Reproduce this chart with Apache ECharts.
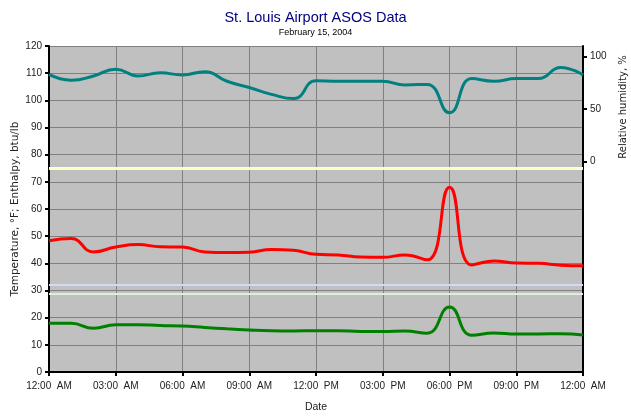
<!DOCTYPE html>
<html><head><meta charset="utf-8">
<script src="https://cdn.jsdelivr.net/npm/echarts@6/dist/echarts.min.js"></script>
<style>html,body{margin:0;padding:0;background:#fff}#c{width:631px;height:418px}</style>
</head><body><div id="c"></div>
<script>
const hours = [0,1,2,3,4,5,6,7,8,9,10,11,12,13,14,15,16,17,18,19,20,21,22,23,24];
const timeLabels = ['12:00  AM','03:00  AM','06:00  AM','09:00  AM','12:00  PM','03:00  PM','06:00  PM','09:00  PM','12:00  AM'];
const humidity = [83,77.5,81.5,88,81.5,84.5,82.5,85.5,76.5,70.5,64,60,77,76.5,76.5,76.5,73,73.5,46.5,79,76.5,79,79,89.5,82.5];
const temperature = [48.3,49.1,44.2,46,46.9,46.1,46,44.2,44,44.1,45.1,44.8,43.3,43.1,42.3,42.2,43.1,41.3,68,39.4,40.9,40.1,40,39.3,39.1];
const enthalpy = [17.9,17.9,16.1,17.4,17.4,17.1,16.9,16.4,15.9,15.5,15.2,15.1,15.2,15.2,14.9,14.9,15.1,14.3,23.9,13.5,14.4,14,14,14.1,13.6];
const refLevels = [75, 32, 28.7];
const refColors = ['#ffffcc', '#d4daf6', '#dcefdc'];

const pair = arr => hours.map((h, i) => [h, arr[i]]);
const FONT = '"Liberation Sans", Arial, sans-serif';
const WIDE = '"DejaVu Sans", Verdana, sans-serif';
const chart = echarts.init(document.getElementById('c'), null, {renderer: 'canvas'});
chart.setOption({
  animation: false,
  backgroundColor: '#ffffff',
  title: {
    text: 'St. Louis Airport ASOS Data',
    subtext: 'February 15, 2004',
    left: 'center', top: 5, itemGap: 3,
    textStyle: {fontFamily: FONT, fontSize: 14.5, fontWeight: 'normal', color: '#000080'},
    subtextStyle: {fontFamily: FONT, fontSize: 9, color: '#000000'}
  },
  grid: {left: 49, right: 48, top: 46, bottom: 46, show: true, backgroundColor: '#c0c0c0', borderWidth: 0,
    containLabel: false, outerBoundsMode: 'none'},
  xAxis: {
    type: 'value', min: 0, max: 24, interval: 3,
    name: 'Date', nameLocation: 'middle', nameGap: 30, nameMoveOverlap: false,
    nameTextStyle: {fontFamily: FONT, fontSize: 10.5, color: '#222'},
    axisLine: {show: true, onZero: false, lineStyle: {color: '#000', width: 2}},
    axisTick: {show: true, length: 4, lineStyle: {color: '#000', width: 2}},
    axisLabel: {fontFamily: FONT, fontSize: 10, color: '#222', margin: 9, formatter: v => timeLabels[Math.round(v / 3)]},
    splitLine: {show: true, lineStyle: {color: '#808080', width: 1}}
  },
  yAxis: [{
    type: 'value', min: 0, max: 120, interval: 10,
    name: 'Temperature, °F; Enthalpy, btu/lb', nameLocation: 'middle', nameGap: 28, nameMoveOverlap: false,
    nameTextStyle: {fontFamily: WIDE, fontSize: 10.5, color: '#222'},
    axisLine: {show: true, lineStyle: {color: '#000', width: 2}},
    axisTick: {show: true, length: 4, lineStyle: {color: '#000', width: 2}},
    axisLabel: {fontFamily: FONT, fontSize: 10, color: '#222', margin: 7},
    splitLine: {show: true, lineStyle: {color: '#808080', width: 1}}
  }, {
    type: 'value', min: -200, max: 110, interval: 50, position: 'right',
    axisLine: {show: true, lineStyle: {color: '#000', width: 2}},
    axisTick: {show: true, length: 4, customValues: [0, 50, 100], lineStyle: {color: '#000', width: 2}},
    axisLabel: {fontFamily: FONT, fontSize: 10, color: '#222', margin: 7, customValues: [0, 50, 100],
      formatter: v => (v >= 0 && v <= 100 ? String(v) : '')},
    splitLine: {show: false}
  }],
  graphic: [{
    type: 'text', x: 623, y: 107, rotation: Math.PI / 2,
    style: {text: 'Relative humidity, %', font: '10px ' + WIDE, fill: '#222', textAlign: 'center', textVerticalAlign: 'middle'}
  }],
  series: [
    {
      type: 'line', name: 'ref', data: [], silent: true,
      markLine: {
        silent: true, symbol: 'none', label: {show: false},
        data: refLevels.map((v, i) => ({yAxis: v, lineStyle: {color: refColors[i], width: i === 0 ? 3 : 2, type: 'solid'}}))
      }
    },
    {type: 'line', name: 'Relative humidity', yAxisIndex: 1, data: pair(humidity), smooth: 0.5, showSymbol: false,
      lineStyle: {color: '#008080', width: 3}},
    {type: 'line', name: 'Temperature', data: pair(temperature), smooth: 0.5, showSymbol: false,
      lineStyle: {color: '#ff0000', width: 3}},
    {type: 'line', name: 'Enthalpy', data: pair(enthalpy), smooth: 0.5, showSymbol: false,
      lineStyle: {color: '#008000', width: 3}}
  ]
});
</script></body></html>
